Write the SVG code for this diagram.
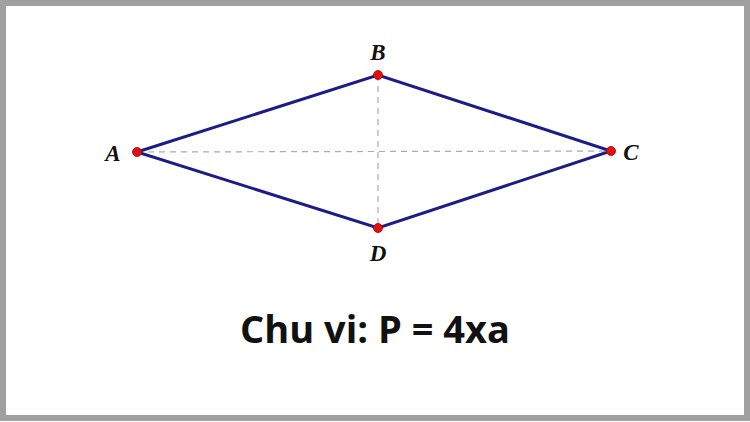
<svg xmlns="http://www.w3.org/2000/svg" width="750" height="422" viewBox="0 0 750 422">
<style>
.edge{stroke:#1c1c88;stroke-width:3;fill:none;stroke-linecap:round}
.dash{stroke:#a8a8c4;stroke-width:1.2;stroke-dasharray:6,5;fill:none}
.pt{fill:#e01010;stroke:#b00000;stroke-width:0.8}
.lbl{font-family:"Liberation Serif",serif;font-style:italic;font-weight:bold;font-size:23px;fill:#111}
.title{font-family:"Open Sans",sans-serif;font-weight:bold;font-size:38px;fill:#111}
</style>
<rect x="0" y="0" width="750" height="422" fill="#ffffff"/>
<rect x="3" y="3" width="744" height="415" fill="none" stroke="#a0a0a0" stroke-width="6"/>
<g id="connectors">
<line class="dash" x1="137" y1="152" x2="611" y2="151"/>
<line class="dash" x1="378" y1="75" x2="378" y2="228"/>
<polygon class="edge" points="137,152 378,75 611,151 378,228"/>
</g>
<g id="A"><circle class="pt" cx="137" cy="152" r="4.5"/><text class="lbl" x="113" y="161" text-anchor="middle">A</text></g>
<g id="B"><circle class="pt" cx="378" cy="75" r="4.5"/><text class="lbl" x="378" y="60" text-anchor="middle">B</text></g>
<g id="C"><circle class="pt" cx="611" cy="151" r="4.5"/><text class="lbl" x="631" y="160" text-anchor="middle">C</text></g>
<g id="D"><circle class="pt" cx="378" cy="228" r="4.5"/><text class="lbl" x="378" y="261" text-anchor="middle">D</text></g>
<text class="title" x="375" y="343" text-anchor="middle">Chu vi: P = 4xa</text>
</svg>
